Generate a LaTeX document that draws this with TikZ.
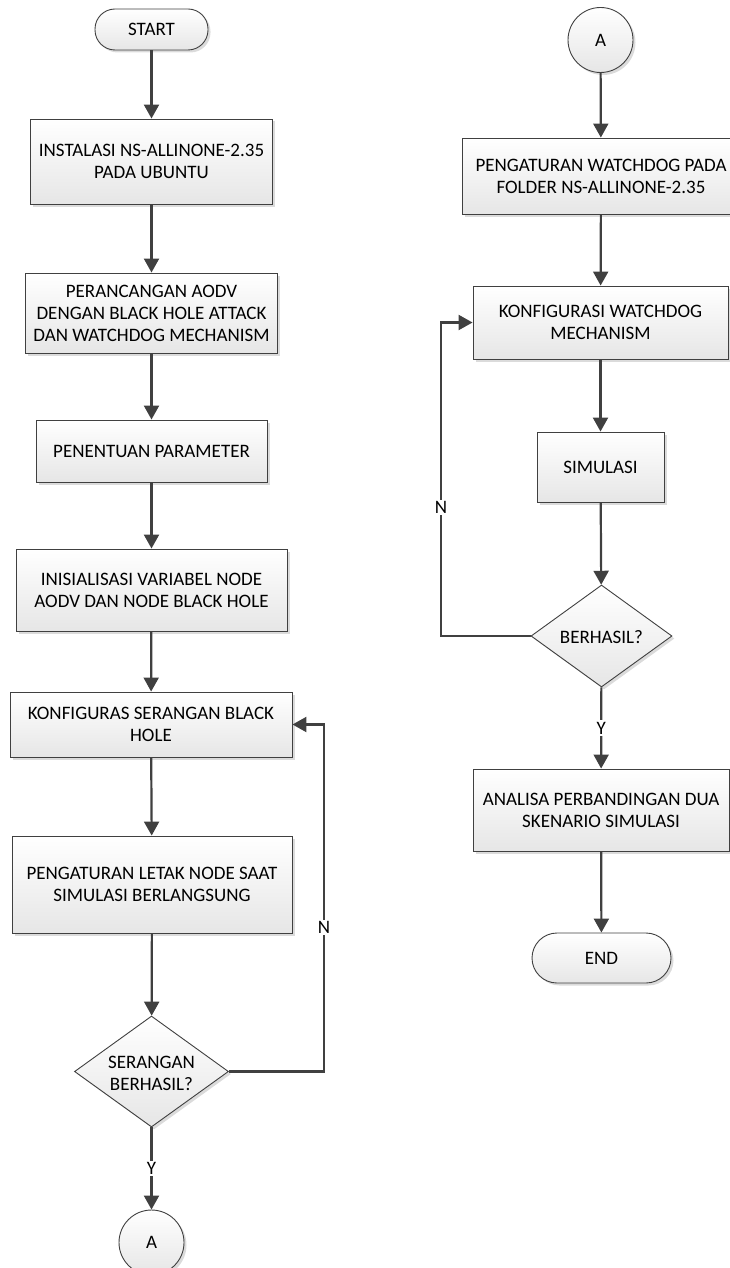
\documentclass[tikz,border=0pt]{standalone}
\usepackage{fontspec}
\setmainfont{Carlito}
\usetikzlibrary{shapes.geometric,arrows.meta,shadows}
\definecolor{ln}{HTML}{404040}
\definecolor{bot}{HTML}{E6E6E6}
\begin{document}
\begin{tikzpicture}[x=1pt,y=-1pt,
 base/.style={draw=ln, line width=0.9pt, top color=white, bottom color=bot,
   drop shadow={shadow xshift=2.5pt, shadow yshift=-2.5pt, opacity=0.35, fill=black!40},
   font=\fontsize{19}{22}\selectfont, align=center, inner sep=0pt, text=black},
 proc/.style={base, rectangle},
 term/.style={base, rectangle},
 dec/.style={base, diamond},
 conn/.style={base, circle, minimum size=65pt},
 arr/.style={ln, line width=2.2pt, -{Triangle[length=14pt,width=15pt]}},
 lbl/.style={fill=white, inner sep=1.5pt, font=\fontsize{19}{22}\selectfont, text=black},
 dtext/.style={font=\fontsize{19}{22}\selectfont, align=center, inner sep=0pt}
]
\useasboundingbox (0,0) rectangle (730,1268);
\clip (0,0) rectangle (730,1268);

% left column
\node[term, rounded corners=20pt, minimum width=113pt, minimum height=41pt] (start) at (151.5,29.5) {START};
\node[proc, minimum width=242pt, minimum height=85pt] (b1) at (151.5,161.5) {INSTALASI NS-ALLINONE-2.35\\PADA UBUNTU};
\node[proc, minimum width=252pt, minimum height=80pt] (b2) at (151.5,313) {PERANCANGAN AODV\\DENGAN BLACK HOLE ATTACK\\DAN WATCHDOG MECHANISM};
\node[proc, minimum width=231pt, minimum height=62pt] (b3) at (151.5,451) {PENENTUAN PARAMETER};
\node[proc, minimum width=271pt, minimum height=82pt] (b4) at (151.5,590) {INISIALISASI VARIABEL NODE\\AODV DAN NODE BLACK HOLE};
\node[proc, minimum width=282pt, minimum height=65pt] (b5) at (151,724.5) {KONFIGURAS SERANGAN BLACK\\HOLE};
\node[proc, minimum width=280pt, minimum height=97pt] (b6) at (152,884.5) {PENGATURAN LETAK NODE SAAT\\SIMULASI BERLANGSUNG};
\node[dec, minimum width=154pt, minimum height=111pt] (d1) at (151.5,1071.5) {};
\node[dtext] (d1t) at (151.5,1073) {SERANGAN\\BERHASIL?};
\node[conn] (a1) at (151.5,1242.5) {A};

% right column
\node[conn] (a2) at (600.5,40) {A};
\node[proc, minimum width=278pt, minimum height=76pt] (r1) at (601,176) {PENGATURAN WATCHDOG PADA\\FOLDER NS-ALLINONE-2.35};
\node[proc, minimum width=255pt, minimum height=73pt] (r2) at (600.5,322.5) {KONFIGURASI WATCHDOG\\MECHANISM};
\node[proc, minimum width=127pt, minimum height=70pt] (r3) at (600.5,467) {SIMULASI};
\node[dec, minimum width=141pt, minimum height=102pt] (d2) at (601.5,636) {};
\node[dtext] (d2t) at (601.5,637) {BERHASIL?};
\node[proc, minimum width=256pt, minimum height=82pt] (r4) at (601,810) {ANALISA PERBANDINGAN DUA\\SKENARIO SIMULASI};
\node[term, rounded corners=25pt, minimum width=139pt, minimum height=50pt] (end) at (601.5,958) {END};

% connectors left
\draw[arr] (start) -- (b1);
\draw[arr] (b1) -- (b2);
\draw[arr] (b2) -- (b3);
\draw[arr] (b3) -- (b4);
\draw[arr] (b4) -- (b5);
\draw[arr] (b5) -- (b6);
\draw[arr] (b6) -- (d1);
\draw[arr] (d1) -- node[lbl] {Y} (a1);
\coordinate (l1) at (324,724.5);
\draw[arr] (d1.east) -- (d1.east -| l1) -- node[lbl, pos=0.414] {N} (l1) -- (b5.east);

% connectors right
\draw[arr] (a2) -- (r1);
\draw[arr] (r1) -- (r2);
\draw[arr] (r2) -- (r3);
\draw[arr] (r3) -- (d2);
\draw[arr] (d2) -- node[lbl] {Y} (r4);
\draw[arr] (r4) -- (end);
\coordinate (l2) at (441,322.5);
\draw[arr] (d2.west) -- (d2.west -| l2) -- node[lbl, pos=0.41] {N} (l2) -- (r2.west);
\end{tikzpicture}
\end{document}
